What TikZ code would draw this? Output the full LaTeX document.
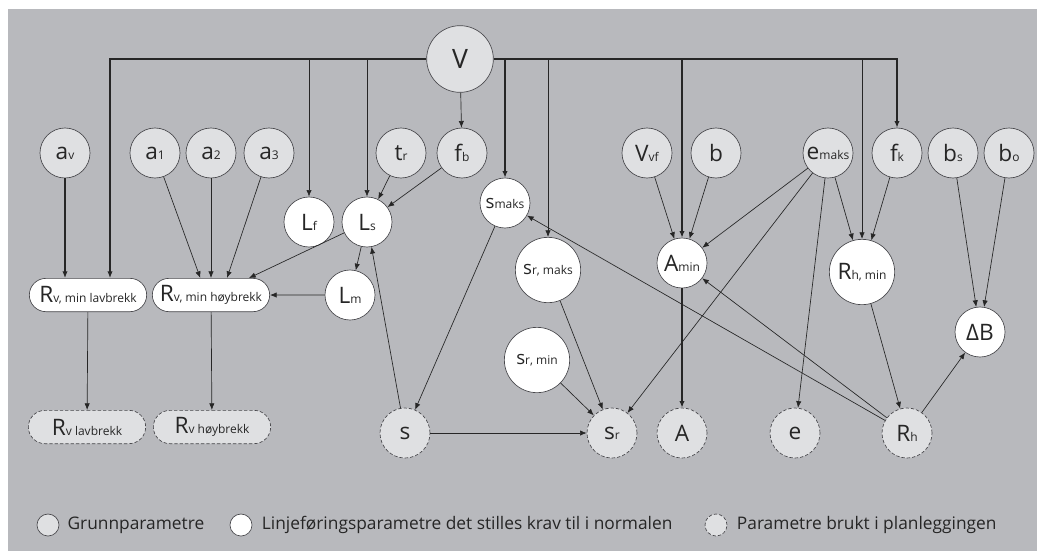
\documentclass[tikz,border=0pt]{standalone}
\usepackage{fontspec}
\setmainfont{Open Sans}
\usepackage{tikz}
\usetikzlibrary{positioning, arrows.meta, shapes.misc}

\definecolor{panelgray}{RGB}{184,185,189}
\definecolor{nodegray}{RGB}{223,224,226}
\definecolor{rimgray}{RGB}{72,72,76}
\newcommand{\ix}[1]{{\fontsize{9}{10}\selectfont #1}}

\begin{document}
\begin{tikzpicture}[
    x=0.75pt, y=-0.75pt,
    grunn/.style={circle, draw=rimgray, fill=nodegray, line width=0.5pt, minimum size=37.5pt, inner sep=0pt, text=black!85, font=\fontsize{17}{18}\selectfont},
    krav/.style={grunn, fill=white},
    plan/.style={grunn, dash pattern=on 2.5pt off 1.5pt},
    big/.style={minimum size=49pt},
    pill/.style={rounded rectangle, draw=rimgray, fill=white, line width=0.5pt, minimum width=90pt, minimum height=25pt, inner sep=1pt, text=black!85, font=\fontsize{17}{18}\selectfont},
    pillplan/.style={pill, fill=nodegray, dash pattern=on 2.5pt off 1.5pt},
    arrow/.style={-{Latex[length=5pt,width=4pt]}, line width=0.5pt, draw=black!85},
    bus/.style={line width=0.9pt},
    legend/.style={font=\fontsize{13}{15}\selectfont, text=black!85, inner sep=1pt}
]
\useasboundingbox (0,0) rectangle (1037,551);
\fill[white] (0,0) rectangle (1037,551);
\fill[panelgray] (8,9) rectangle (1037,551);

% Grunnparametre
\node[grunn, minimum size=50pt, font=\fontsize{20}{21}\selectfont] (V) at (460,59) {V};
\node[grunn] (av)    at (65,153)   {a\ix{v}};
\node[grunn] (a1)    at (155,153)  {a\ix{1}};
\node[grunn] (a2)    at (211,153)  {a\ix{2}};
\node[grunn] (a3)    at (269,153)  {a\ix{3}};
\node[grunn] (tr)    at (401,153)  {t\ix{r}};
\node[grunn] (fb)    at (462,153)  {f\ix{b}};
\node[grunn] (vvf)   at (647,153)  {V\ix{vf}};
\node[grunn] (b)     at (716,153)  {b};
\node[grunn] (emaks) at (828,153)  {e\ix{maks}};
\node[grunn] (fk)    at (897,153)  {f\ix{k}};
\node[grunn] (bs)    at (953,153)  {b\ix{s}};
\node[grunn] (bo)    at (1009,153) {b\ix{o}};

% Linjefoeringsparametre (krav i normalen)
\node[krav] (Lf)     at (309,222) {L\ix{f}};
\node[krav] (Ls)     at (367,222) {L\ix{s}};
\node[krav] (Lm)     at (350,295) {L\ix{m}};
\node[krav, font=\fontsize{14}{15}\selectfont] (smaks) at (505,203) {s\ix{maks}};
\node[krav, big, font=\fontsize{14}{15}\selectfont] (srmaks) at (548,270) {s\ix{r, maks}};
\node[krav, big, font=\fontsize{14}{15}\selectfont] (srmin)  at (537,360) {s\ix{r, min}};
\node[krav] (Amin)   at (682,263) {A\ix{min}};
\node[krav, big] (Rhmin) at (862,272) {R\ix{h, min}};
\node[krav] (dB)     at (980,332) {ΔB};
\node[pill] (Rvminlav) at (88,295)  {R\ix{v, min lavbrekk}};
\node[pill] (Rvminhoy) at (211,295) {R\ix{v, min høybrekk}};

% Parametre brukt i planleggingen
\node[pillplan] (Rvlav) at (87,427)  {R\ix{v lavbrekk}};
\node[pillplan] (Rvhoy) at (212,427) {R\ix{v høybrekk}};
\node[plan] (s)  at (405,433) {s};
\node[plan] (sr) at (612,433) {s\ix{r}};
\node[plan] (A)  at (682,433) {A};
\node[plan] (e)  at (795,433) {e};
\node[plan] (Rh) at (907,433) {R\ix{h}};

% Samleskinne fra V
\coordinate (busL) at (110,59);
\coordinate (busR) at (897,59);
\draw[arrow, bus] (V.west) -- (busL) -- (busL |- Rvminlav.north);
\draw[arrow, bus] (V.east) -- (busR) -- (fk.north);
\foreach \n in {Lf, Ls, srmaks, Rhmin}
    \draw[arrow] (busL -| \n.north) -- (\n.north);
\draw[arrow, bus] (busL -| smaks.north) -- (smaks.north);
\draw[arrow, bus] (busL -| Amin.north) -- (Amin.north);
\draw[arrow] (V) -- (fb);

% Vertikalkurvatur
\draw[arrow, bus] (av) -- (av |- Rvminlav.north);
\draw[arrow] (a1) -- ([xshift=-8pt]Rvminhoy.north);
\draw[arrow] (a2) -- (Rvminhoy.north);
\draw[arrow] (a3) -- ([xshift=12pt]Rvminhoy.north);
\draw[arrow] (Ls) -- ([xshift=-3pt]Rvminhoy.north east);
\draw[arrow] (Lm) -- (Rvminhoy);
\draw[arrow] (Ls) -- (Lm);
\draw[arrow] (tr) -- (Ls);
\draw[arrow] (fb) -- (Ls);
\draw[arrow] (Rvminlav) -- (Rvlav);
\draw[arrow] (Rvminhoy) -- (Rvhoy);

% Sikt og overhoeyde
\draw[arrow] (s) -- (Ls);
\draw[arrow] (smaks) -- (s);
\draw[arrow] (s) -- (sr);
\draw[arrow] (srmaks) -- (sr);
\draw[arrow] (srmin) -- (sr);
\draw[arrow] (emaks) -- (sr);
\draw[arrow] (Rh) -- (smaks);
\draw[arrow] (Rh) -- (Amin);
\draw[arrow] (emaks) -- (Amin);
\draw[arrow] (vvf) -- (Amin);
\draw[arrow] (b) -- (Amin);
\draw[arrow, bus] (Amin) -- (A);
\draw[arrow] (emaks) -- (e);
\draw[arrow] (emaks) -- (Rhmin);
\draw[arrow] (fk) -- (Rhmin);
\draw[arrow] (Rhmin) -- (Rh);
\draw[arrow] (bs) -- (dB);
\draw[arrow] (bo) -- (dB);
\draw[arrow] (Rh) -- (dB);

% Tegnforklaring
\node[grunn, minimum size=16.5pt] (leg1) at (48,525) {};
\node[legend, right=5pt of leg1] (legtxt1) {Grunnparametre};
\node[krav, minimum size=16.5pt] (leg2) at (241,525) {};
\node[legend, right=6pt of leg2] (legtxt2) {Linjeføringsparametre det stilles krav til i normalen};
\node[plan, minimum size=16.5pt] (leg3) at (716,525) {};
\node[legend, right=6pt of leg3] (legtxt3) {Parametre brukt i planleggingen};
\end{tikzpicture}
\end{document}
